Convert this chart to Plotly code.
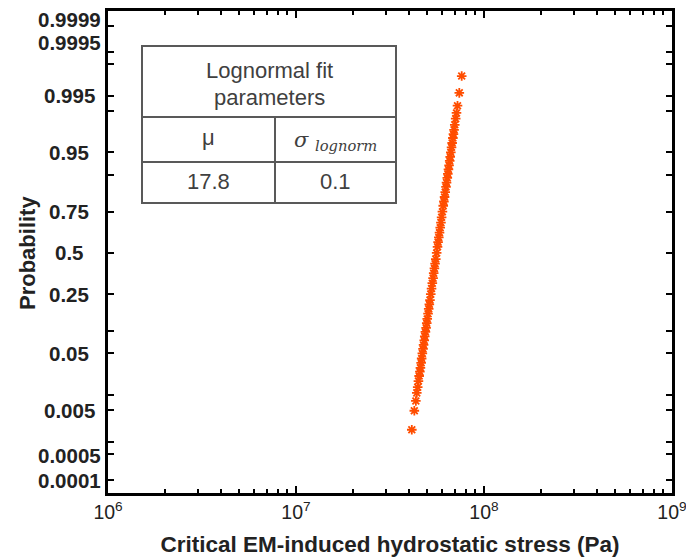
import plotly.graph_objects as go
from statistics import NormalDist

# ---- data ----
probability = [0.0019, 0.0049, 0.0077, 0.011, 0.014, 0.018, 0.022, 0.026, 0.030, 0.036,
               0.042, 0.050, 0.058, 0.066, 0.076, 0.086, 0.098, 0.11, 0.125, 0.14,
               0.16, 0.18, 0.20, 0.22, 0.25, 0.28, 0.31, 0.34, 0.37, 0.40,
               0.43, 0.46, 0.50, 0.54, 0.57, 0.60, 0.63, 0.66, 0.69, 0.72,
               0.75, 0.78, 0.80, 0.82, 0.84, 0.86, 0.875, 0.89, 0.902, 0.914,
               0.924, 0.934, 0.942, 0.950, 0.958, 0.964, 0.970, 0.974, 0.978, 0.982,
               0.986, 0.989, 0.992, 0.9956, 0.9981]
stress_MPa = [41.3, 42.6, 43.4, 43.9, 44.4, 44.8, 45.2, 45.6, 45.9, 46.3,
              46.6, 47.0, 47.4, 47.7, 48.1, 48.4, 48.8, 49.2, 49.6, 49.9,
              50.4, 50.8, 51.2, 51.6, 52.1, 52.6, 53.1, 53.6, 54.0, 54.5,
              54.9, 55.4, 56.0, 56.6, 57.0, 57.5, 58.0, 58.5, 59.0, 59.5,
              60.1, 60.7, 61.2, 61.7, 62.2, 62.8, 63.2, 63.8, 64.2, 64.7,
              65.2, 65.7, 66.1, 66.6, 67.2, 67.7, 68.3, 68.8, 69.3, 69.9,
              70.7, 71.4, 72.3, 73.9, 76.1]

prob_labeled = [0.0001, 0.0005, 0.005, 0.05, 0.25, 0.5, 0.75, 0.95, 0.995, 0.9995, 0.9999]
prob_labels = ["0.0001", "0.0005", "0.005", "0.05", "0.25", "0.5", "0.75", "0.95", "0.995", "0.9995", "0.9999"]
prob_unlabeled = [0.001, 0.01, 0.1, 0.9, 0.99, 0.999]

x_ticks = [1e6, 1e7, 1e8, 1e9]
x_labels = ["10<sup>6</sup>", "10<sup>7</sup>", "10<sup>8</sup>", "10<sup>9</sup>"]
x_minor = [m * 10 ** e for e in (6, 7, 8) for m in range(2, 10)]

table_header = ["Lognormal fit", "parameters"]
table_names = ["μ", "<i>σ</i> <sub><i>lognorm</i></sub>"]
table_values = ["17.8", "0.1"]

x_title = "Critical EM-induced hydrostatic stress (Pa)"
y_title = "Probability"

nd = NormalDist()
def probit(p):
    return nd.inv_cdf(p)

stress_pa = [v * 1e6 for v in stress_MPa]
zvals = [probit(p) for p in probability]

fig = go.Figure()
fig.add_trace(go.Scatter(
    x=stress_pa, y=zvals, mode="markers",
    marker=dict(symbol="asterisk", size=8, color="#FF4D00",
                line=dict(color="#FF4D00", width=1.8)),
    showlegend=False, hoverinfo="skip"))

# plot area in pixels
L, R, T, B = 108, 672, 11, 493
W, H = 686, 560
def px(xp):
    return (xp - L) / (R - L)
def py(yp):
    return (B - yp) / (B - T)

tcol = "#595959"
tl, tr, tt, tb = 142, 396, 46, 203
r1, r2, vd = 117, 162, 275
shapes = [
    dict(type="rect", xref="paper", yref="paper", x0=px(tl), x1=px(tr), y0=py(tb), y1=py(tt),
         line=dict(color=tcol, width=2), fillcolor="white", layer="above"),
    dict(type="line", xref="paper", yref="paper", x0=px(tl), x1=px(tr), y0=py(r1), y1=py(r1),
         line=dict(color=tcol, width=2)),
    dict(type="line", xref="paper", yref="paper", x0=px(tl), x1=px(tr), y0=py(r2), y1=py(r2),
         line=dict(color=tcol, width=2)),
    dict(type="line", xref="paper", yref="paper", x0=px(vd), x1=px(vd), y0=py(r1), y1=py(tb),
         line=dict(color=tcol, width=2)),
]

SANS = "Arial, Liberation Sans, sans-serif"
txt_font = dict(family=SANS, size=22, color="#404040")
annotations = [
    dict(xref="paper", yref="paper", x=px((tl + tr) / 2), y=py(70), text=table_header[0],
         showarrow=False, font=txt_font, xanchor="center", yanchor="middle"),
    dict(xref="paper", yref="paper", x=px((tl + tr) / 2), y=py(97), text=table_header[1],
         showarrow=False, font=txt_font, xanchor="center", yanchor="middle"),
    dict(xref="paper", yref="paper", x=px((tl + vd) / 2), y=py(137), text=table_names[0],
         showarrow=False, font=txt_font, xanchor="center", yanchor="middle"),
    dict(xref="paper", yref="paper", x=px((vd + tr) / 2), y=py(141), text=table_names[1],
         showarrow=False, font=dict(family="DejaVu Serif, Liberation Serif, serif", size=21, color="#404040"),
         xanchor="center", yanchor="middle"),
    dict(xref="paper", yref="paper", x=px((tl + vd) / 2), y=py(182), text=table_values[0],
         showarrow=False, font=txt_font, xanchor="center", yanchor="middle"),
    dict(xref="paper", yref="paper", x=px((vd + tr) / 2), y=py(182), text=table_values[1],
         showarrow=False, font=txt_font, xanchor="center", yanchor="middle"),
    # y-axis title
    dict(xref="paper", yref="paper", x=px(27), y=py(253), text="<b>%s</b>" % y_title,
         textangle=-90, showarrow=False, xanchor="center", yanchor="middle",
         font=dict(family=SANS, size=22, color="#222222")),
]
# y tick labels (centred, as in the reference); the two top labels sit a bit above their ticks
label_shift = {"0.9999": 6, "0.9995": 9, "0.0005": -2}
for p, lab in zip(prob_labeled, prob_labels):
    annotations.append(dict(xref="paper", yref="y", x=px(69), y=probit(p), text="<b>%s</b>" % lab,
                            showarrow=False, xanchor="center", yanchor="middle",
                            yshift=label_shift.get(lab, 0),
                            font=dict(family=SANS, size=20.5, color="#222222")))

fig.update_layout(
    width=W, height=H,
    margin=dict(l=L, r=W - R, t=T, b=H - B, autoexpand=False),
    paper_bgcolor="white", plot_bgcolor="white",
    shapes=shapes, annotations=annotations,
    xaxis=dict(type="log", range=[5.9999, 9.0001], tickvals=x_ticks, ticktext=x_labels,
               ticklabeloverflow="allow", automargin=False,
               ticks="inside", ticklen=7, tickwidth=2, tickcolor="black",
               minor=dict(tickvals=x_minor, ticks="inside", ticklen=4, tickwidth=2, tickcolor="black"),
               showline=True, linecolor="black", linewidth=2.5, mirror="ticks",
               showgrid=False, zeroline=False,
               tickprefix="<b>", ticksuffix="</b>",
               tickfont=dict(family=SANS, size=19.5, color="#222222"),
               title=dict(text="<b>%s</b>" % x_title,
                          font=dict(family=SANS, size=22.5, color="#222222"),
                          standoff=15)),
    yaxis=dict(range=[probit(0.0001) - 0.21, probit(0.9999) + 0.24],
               tickvals=[probit(p) for p in prob_labeled], showticklabels=False,
               automargin=False,
               ticks="inside", ticklen=6, tickwidth=2, tickcolor="black",
               minor=dict(tickvals=[probit(p) for p in prob_unlabeled], ticks="inside",
                          ticklen=6, tickwidth=2, tickcolor="black"),
               showline=True, linecolor="black", linewidth=2.5, mirror="ticks",
               showgrid=False, zeroline=False),
)

fig.write_html("out.html")
